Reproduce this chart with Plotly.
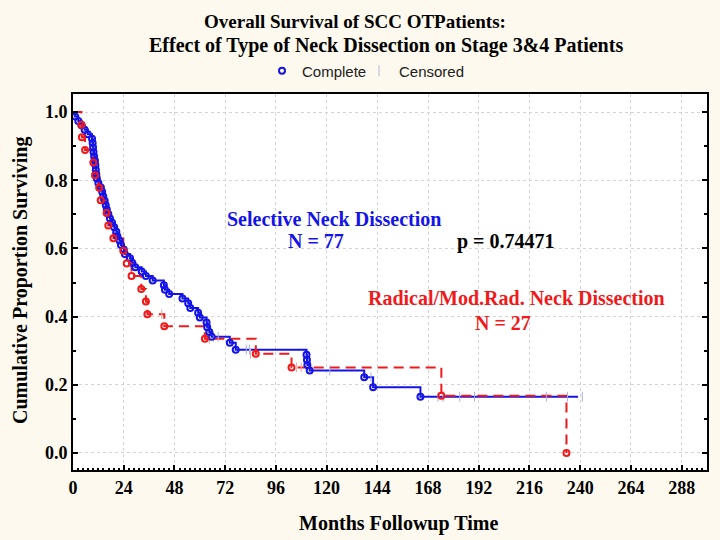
import plotly.graph_objects as go

# ---------------- data ----------------
# Selective neck dissection (N=77): event (complete) times and survival after each event
sel_time = [1, 2.5, 4, 5.5, 7, 9, 9.3, 9.5, 9.7, 10, 10.4, 10.6, 10.8, 11, 11.3, 12, 13.2, 13.8,
            14.3, 15, 15.5, 16, 16.7, 17.5, 18.5, 19.5, 20.5, 21, 22, 22.7, 24, 24.5, 27, 28, 29.5,
            32.5, 34.5, 37.7, 43, 43.5, 45.5, 51.8, 54.5, 55.5, 59.2, 60, 63.2, 63.5, 64.5, 65.6,
            74.2, 77, 110.5, 110.7, 110.9, 112, 137.8, 142, 164.4]
sel_surv = [0.987, 0.974, 0.961, 0.948, 0.935, 0.922, 0.909, 0.896, 0.883, 0.870, 0.857, 0.844,
            0.831, 0.818, 0.805, 0.792, 0.779, 0.766, 0.753, 0.740, 0.727, 0.714, 0.701, 0.688,
            0.675, 0.662, 0.649, 0.636, 0.623, 0.610, 0.597, 0.584, 0.571, 0.558, 0.545, 0.532,
            0.519, 0.506, 0.492, 0.479, 0.466, 0.453, 0.439, 0.425, 0.411, 0.397, 0.383, 0.369,
            0.355, 0.341, 0.323, 0.303, 0.288, 0.273, 0.258, 0.242, 0.222, 0.193, 0.165]
sel_last_time = 239
sel_cens_time = [66.5, 68.7, 82, 83.5, 121.5, 141, 172.7, 175, 183, 190, 224, 234, 241]
sel_cens_surv = [0.341, 0.341, 0.303, 0.303, 0.242, 0.222, 0.165, 0.165, 0.165, 0.165, 0.165, 0.165, 0.165]

# Radical / modified radical neck dissection (N=27)
rad_time = [4, 4.2, 5.7, 9.6, 10.4, 12.4, 13.1, 15.9, 16.7, 19.1, 23.8, 25.4, 27.7, 32.3, 34.5,
            35.2, 43.2, 62.4, 86.5, 103.4, 174.3, 233.5]
rad_surv = [0.963, 0.926, 0.889, 0.852, 0.815, 0.778, 0.741, 0.704, 0.667, 0.630, 0.593, 0.556,
            0.519, 0.481, 0.444, 0.407, 0.372, 0.335, 0.291, 0.251, 0.168, 0.0]
rad_cens_time = [42, 64.5, 84, 105.8, 108, 175.5]
rad_cens_surv = [0.407, 0.335, 0.291, 0.251, 0.251, 0.168]

x_ticks = list(range(0, 289, 24))
y_ticks = [0.0, 0.2, 0.4, 0.6, 0.8, 1.0]

title_1 = "Overall Survival of SCC OTPatients:"
title_2 = "Effect of Type of Neck Dissection on Stage 3&4 Patients"
x_title = "Months Followup Time"
y_title = "Cumulative Proportion Surviving"
sel_label = "Selective Neck Dissection"
sel_n = "N = 77"
rad_label = "Radical/Mod.Rad. Neck Dissection"
rad_n = "N = 27"
p_label = "p = 0.74471"

BLUE = "#1414e8"
RED = "#f01a1a"
SERIF = "Liberation Serif"
BG = "#fdf9ee"

fig = go.Figure()

# step lines
fig.add_trace(go.Scatter(x=[0] + sel_time + [sel_last_time], y=[1.0] + sel_surv + [sel_surv[-1]],
                         mode="lines", line=dict(color=BLUE, width=2, shape="hv"),
                         showlegend=False, hoverinfo="skip"))
fig.add_trace(go.Scatter(x=[0] + rad_time, y=[1.0] + rad_surv,
                         mode="lines", line=dict(color=RED, width=2, shape="hv", dash="10px,6px"),
                         showlegend=False, hoverinfo="skip"))
# censored marks
fig.add_trace(go.Scatter(x=sel_cens_time, y=sel_cens_surv, mode="markers",
                         marker=dict(symbol="line-ns-open", size=7, color="#a8b0e8",
                                     line=dict(width=1, color="#a8b0e8")),
                         showlegend=False))
fig.add_trace(go.Scatter(x=rad_cens_time, y=rad_cens_surv, mode="markers",
                         marker=dict(symbol="line-ns-open", size=7, color="#f0a8a8",
                                     line=dict(width=1, color="#f0a8a8")),
                         showlegend=False))
# complete (event) markers
fig.add_trace(go.Scatter(x=sel_time, y=sel_surv, mode="markers",
                         marker=dict(symbol="circle-open", size=6, color=BLUE, line=dict(width=2, color=BLUE)),
                         showlegend=False))
fig.add_trace(go.Scatter(x=rad_time, y=rad_surv, mode="markers",
                         marker=dict(symbol="circle-open", size=6, color=RED, line=dict(width=2, color=RED)),
                         showlegend=False))
# legend entries
fig.add_trace(go.Scatter(x=[None], y=[None], mode="markers", name="Complete",
                         marker=dict(symbol="circle-open", size=6, color=BLUE, line=dict(width=2, color=BLUE))))
fig.add_trace(go.Scatter(x=[None], y=[None], mode="markers", name="Censored",
                         marker=dict(symbol="line-ns-open", size=8, color="#b0b8d8",
                                     line=dict(width=1, color="#b0b8d8"))))
# invisible spacer entry so the last legend label is not clipped
fig.add_trace(go.Scatter(x=[None], y=[None], mode="markers", name=" ",
                         marker=dict(size=1, color="rgba(0,0,0,0)")))

L, R, T, B = 73, 707, 94, 470
def px(xp):
    return (xp - L) / (R - L)
def py(yp):
    return (B - yp) / (B - T)

ann = [
    (title_1, 355, 21, "black", 19),
    (title_2, 386, 45, "black", 20),
    (sel_label, 334, 219, BLUE, 20),
    (sel_n, 316, 241, BLUE, 20),
    (p_label, 506, 241, "black", 20),
    (rad_label, 516, 298, RED, 20),
    (rad_n, 503, 323, RED, 20),
    (x_title, 398, 523, "black", 20),
]
for text, xx, yy, col, sz in ann:
    fig.add_annotation(text="<b>" + text + "</b>", x=px(xx), y=py(yy), xref="paper", yref="paper",
                       showarrow=False, xanchor="center", yanchor="middle",
                       font=dict(family=SERIF, size=sz, color=col))
fig.add_annotation(text="<b>" + y_title + "</b>", x=px(20), y=py(281), xref="paper", yref="paper",
                   showarrow=False, textangle=-90, xanchor="center", yanchor="middle",
                   font=dict(family=SERIF, size=20, color="black"))

fig.update_layout(
    width=720, height=540,
    margin=dict(l=L, r=720 - R, t=T, b=540 - B),
    paper_bgcolor=BG, plot_bgcolor="white",
    legend=dict(orientation="h", x=px(262), y=py(71), xanchor="left", yanchor="middle",
                font=dict(family="Liberation Sans", size=15, color="#202020"),
                bgcolor="rgba(0,0,0,0)", itemwidth=30, entrywidth=52, entrywidthmode="pixels"),
)
fig.update_xaxes(range=[0, 300], tickvals=x_ticks, ticks="inside", ticklen=5, tickwidth=1.5,
                 tickcolor="black", showline=True, linecolor="black", linewidth=2, mirror=True,
                 showgrid=True, gridcolor="#d4d4d4", griddash="dot", gridwidth=1, zeroline=False,
                 tickfont=dict(family=SERIF, size=18, color="black", weight="bold"),
                 minor=dict(dtick=2.4, ticks="inside", ticklen=2.5, tickcolor="black", showgrid=False))
fig.update_yaxes(range=[-0.05, 1.053], tickvals=y_ticks, tickformat=".1f", ticks="inside", ticklen=5,
                 tickwidth=1.5, tickcolor="black", showline=True, linecolor="black", linewidth=2,
                 mirror="allticks", showgrid=True, gridcolor="#d4d4d4", griddash="dot", gridwidth=1,
                 zeroline=False, tickfont=dict(family=SERIF, size=18, color="black", weight="bold"),
                 minor=dict(dtick=0.1, ticks="inside", ticklen=3, tickcolor="black", showgrid=False))

fig.write_html("out.html", config={"displayModeBar": False},
               post_script="document.body.style.margin='0';document.body.style.background='" + BG + "';")
